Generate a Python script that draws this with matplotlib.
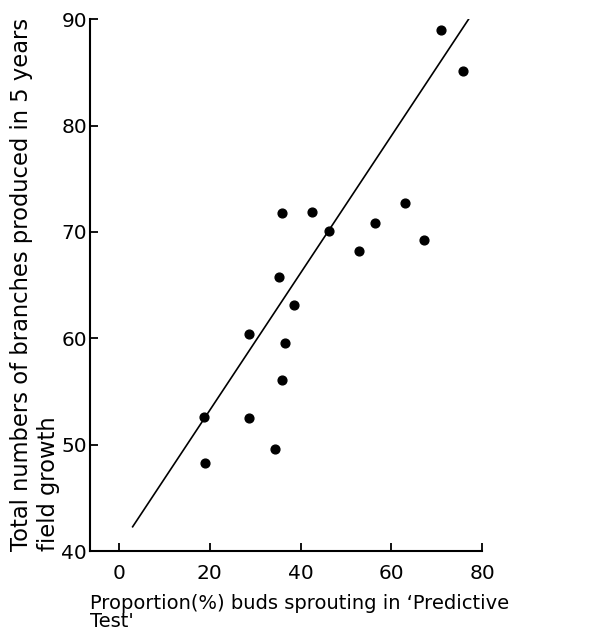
import numpy as np
import matplotlib.pyplot as plt

# proportion of buds sprouting (%) vs total branches after 5 years
sprouting = [71.0, 75.7, 35.8, 42.5, 46.3, 63.0, 56.3, 52.9, 67.1, 35.3,
             38.5, 28.6, 36.5, 35.9, 18.8, 28.6, 34.3, 18.9]
branches = [89.0, 85.1, 71.8, 71.9, 70.1, 72.7, 70.8, 68.2, 69.2, 65.8,
            63.1, 60.4, 59.6, 56.1, 52.6, 52.5, 49.6, 48.3]

# fitted line end points
line_x = [3.0, 77.0]
line_y = [42.3, 90.0]

xticks = [0, 20, 40, 60, 80]
yticks = [40, 50, 60, 70, 80, 90]

plt.rcParams['font.family'] = 'DejaVu Sans'
plt.rcParams['font.size'] = 14

fig = plt.figure(figsize=(6.12, 6.38), dpi=100)
ax = fig.add_axes([0.147, 0.136, 0.641, 0.834])

ax.plot(line_x, line_y, color='black', lw=1.2)
ax.scatter(sprouting, branches, s=40, color='black', zorder=3)

ax.set_xlim(-6.4, 80)
ax.set_ylim(40, 90)
ax.set_xticks(xticks)
ax.set_yticks(yticks)
ax.spines['top'].set_visible(False)
ax.spines['right'].set_visible(False)
for s in ['left', 'bottom']:
    ax.spines[s].set_linewidth(1.5)
ax.tick_params(axis='both', direction='in', length=6, width=1.3, labelsize=14.5)
ax.tick_params(axis='x', pad=9)
ax.tick_params(axis='y', pad=2)

ax.set_xlabel("Proportion(%) buds sprouting in \u2018Predictive\nTest'",
              loc='left', fontsize=14, linespacing=0.95, labelpad=8)
ax.set_ylabel("Total numbers of branches produced in 5 years\nfield growth",
              loc='bottom', fontsize=16.3, linespacing=1.2, labelpad=1)

fig.savefig('out.png', dpi=100)
